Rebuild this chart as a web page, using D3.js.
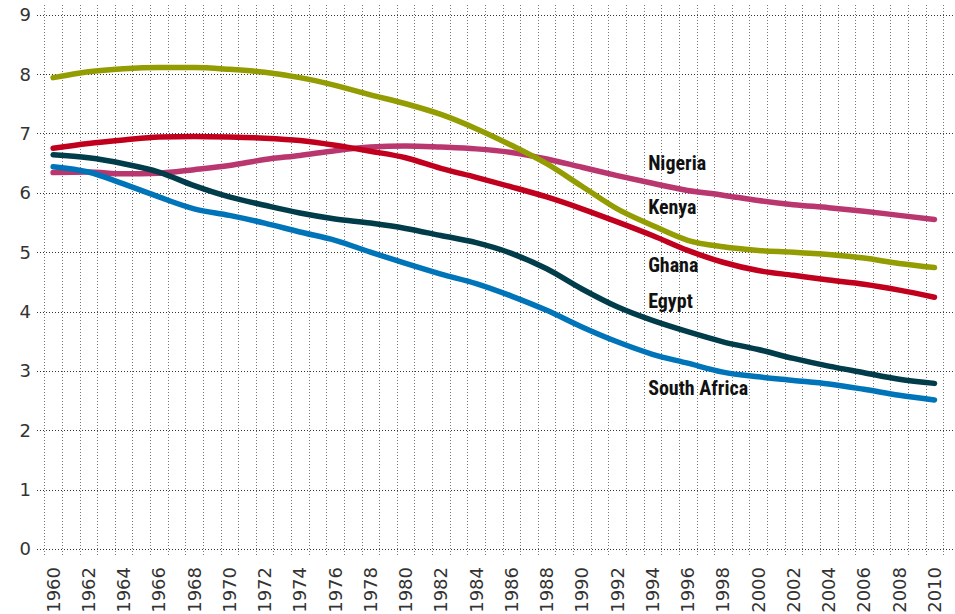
<!DOCTYPE html>
<html>
<head>
<meta charset="utf-8">
<script src="https://cdn.jsdelivr.net/npm/d3@7"></script>
<style>
  html, body { margin: 0; padding: 0; background: #ffffff; }
  svg { display: block; }
</style>
</head>
<body>
<svg id="chart" width="955" height="614"></svg>
<script>
// ---- data ----
const years = d3.range(1960, 2011);              // axis categories (one band per year)
const sampleYears = d3.range(1960, 2011, 2);     // years at which values were read
const yTicks = [0, 1, 2, 3, 4, 5, 6, 7, 8, 9];
const xTickYears = d3.range(1960, 2011, 2);

const kenya = [7.94, 8.04, 8.09, 8.11, 8.11, 8.08, 8.03, 7.94, 7.81, 7.65, 7.50, 7.32, 7.08,
               6.80, 6.49, 6.11, 5.73, 5.45, 5.20, 5.09, 5.03, 5.00, 4.96, 4.90, 4.81, 4.74];
const ghana = [6.75, 6.83, 6.89, 6.94, 6.95, 6.94, 6.92, 6.88, 6.80, 6.70, 6.59, 6.41, 6.26,
               6.10, 5.93, 5.73, 5.51, 5.28, 5.03, 4.83, 4.69, 4.61, 4.53, 4.46, 4.36, 4.24];
const nigeria = [6.34, 6.35, 6.32, 6.33, 6.39, 6.46, 6.56, 6.63, 6.71, 6.77, 6.79, 6.77, 6.74,
                 6.68, 6.57, 6.43, 6.29, 6.16, 6.04, 5.96, 5.87, 5.80, 5.75, 5.69, 5.62, 5.55];
const egypt = [6.64, 6.59, 6.49, 6.35, 6.12, 5.93, 5.79, 5.66, 5.56, 5.49, 5.40, 5.28, 5.16,
               4.98, 4.72, 4.38, 4.08, 3.85, 3.66, 3.49, 3.36, 3.21, 3.08, 2.97, 2.86, 2.79];
const southAfrica = [6.44, 6.35, 6.15, 5.93, 5.73, 5.62, 5.49, 5.34, 5.20, 5.00, 4.81, 4.63, 4.47,
                     4.26, 4.02, 3.74, 3.49, 3.28, 3.13, 2.98, 2.90, 2.84, 2.78, 2.69, 2.59, 2.51];

const seriesNames = ["Kenya", "Ghana", "Nigeria", "Egypt", "South Africa"];
const seriesValues = [kenya, ghana, nigeria, egypt, southAfrica];
const seriesColors = ["#939c00", "#c1001e", "#b9376e", "#003c4a", "#0074b8"];
const labelOrder = ["Nigeria", "Kenya", "Ghana", "Egypt", "South Africa"];
const labelYears = [1994, 1994, 1994, 1994, 1994];
const labelValues = [6.38, 5.64, 4.67, 4.06, 2.59];

// ---- layout ----
const W = 955, H = 614;
const mLeft = 44.3, mRight = 943.3, mTop = 14.7, mBottom = 549;

const svg = d3.select("#chart");

const x = d3.scaleBand().domain(years).range([mLeft, mRight]).paddingInner(0).paddingOuter(0);
const xc = yr => x(yr) + x.bandwidth() / 2;
const y = d3.scaleLinear().domain([0, 9]).range([mBottom, mTop]);

// vertical grid (band boundaries)
const vLines = years.map(yr => x(yr)).concat([x(years[years.length - 1]) + x.bandwidth()]);
svg.append("g")
  .selectAll("line")
  .data(vLines)
  .join("line")
  .attr("x1", d => Math.round(d) + 0.5).attr("x2", d => Math.round(d) + 0.5)
  .attr("y1", 5).attr("y2", 556)
  .attr("stroke", "#777")
  .attr("stroke-width", 1)
  .attr("stroke-dasharray", "1,2");

// horizontal grid
svg.append("g")
  .selectAll("line")
  .data(yTicks)
  .join("line")
  .attr("x1", 37).attr("x2", W)
  .attr("y1", d => Math.round(y(d)) + 0.5).attr("y2", d => Math.round(y(d)) + 0.5)
  .attr("stroke", "#333")
  .attr("stroke-width", 1)
  .attr("stroke-dasharray", "1,2");

// y labels
svg.append("g")
  .selectAll("text")
  .data(yTicks)
  .join("text")
  .attr("x", 31)
  .attr("y", d => y(d))
  .attr("dy", "0.36em")
  .attr("text-anchor", "end")
  .attr("font-family", "DejaVu Sans, sans-serif")
  .attr("font-size", 18)
  .attr("fill", "#333")
  .text(d => d);

// x labels
svg.append("g")
  .selectAll("text")
  .data(xTickYears)
  .join("text")
  .attr("transform", d => `translate(${xc(d)},567) rotate(-90)`)
  .attr("dy", "0.36em")
  .attr("text-anchor", "end")
  .attr("font-family", "DejaVu Sans, sans-serif")
  .attr("font-size", 18)
  .attr("fill", "#333")
  .text(d => d);

// lines
const line = d3.line()
  .x(d => xc(d[0]))
  .y(d => y(d[1]))
  .curve(d3.curveMonotoneX);

const drawOrder = [2, 0, 1, 3, 4];
svg.append("g")
  .selectAll("path")
  .data(drawOrder)
  .join("path")
  .attr("d", i => line(sampleYears.map((yr, k) => [yr, seriesValues[i][k]])))
  .attr("fill", "none")
  .attr("stroke", i => seriesColors[i])
  .attr("stroke-width", 5.5)
  .attr("stroke-linecap", "round")
  .attr("stroke-linejoin", "round");

// series labels
svg.append("g")
  .selectAll("text")
  .data(labelOrder)
  .join("text")
  .attr("x", (d, i) => x(labelYears[i]) + 4.5)
  .attr("y", (d, i) => y(labelValues[i]))
  .attr("font-family", "'Liberation Sans Narrow', 'Arial Narrow', 'Roboto Condensed', sans-serif")
  .attr("font-weight", "bold")
  .attr("font-size", 20)
  .attr("fill", "#111")
  .text(d => d);
</script>
</body>
</html>
